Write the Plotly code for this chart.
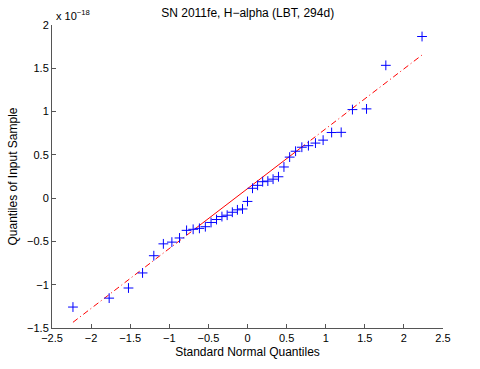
import numpy as np
import plotly.graph_objects as go

# standard normal quantiles for n = 39 samples
normal_q = [-2.232, -1.769, -1.522, -1.342, -1.198, -1.076, -0.967, -0.869, -0.779, -0.695,
            -0.615, -0.539, -0.466, -0.396, -0.327, -0.260, -0.194, -0.129, -0.064, 0.0,
            0.064, 0.129, 0.194, 0.260, 0.327, 0.396, 0.466, 0.539, 0.615, 0.695,
            0.779, 0.869, 0.967, 1.076, 1.198, 1.342, 1.522, 1.769, 2.232]

# sample quantiles, units of 1e-18
sample_q = [-1.258, -1.155, -1.038, -0.864, -0.665, -0.528, -0.508, -0.460, -0.372, -0.360,
            -0.349, -0.330, -0.281, -0.247, -0.213, -0.197, -0.163, -0.135, -0.125, -0.038,
            0.114, 0.148, 0.190, 0.197, 0.219, 0.247, 0.360, 0.474, 0.542, 0.588,
            0.606, 0.636, 0.670, 0.758, 0.760, 1.023, 1.031, 1.534, 1.867]

x_ticks = [-2.5, -2, -1.5, -1, -0.5, 0, 0.5, 1, 1.5, 2, 2.5]
y_ticks = [-1.5, -1, -0.5, 0, 0.5, 1, 1.5, 2]

# reference line through the quartiles (like matlab qqplot)
xs = np.array(normal_q)
ys = np.array(sample_q)
q1x, q3x = np.percentile(xs, [25, 75], method="hazen")
q1y, q3y = np.percentile(ys, [25, 75], method="hazen")
slope = (q3y - q1y) / (q3x - q1x)
icpt = q1y - slope * q1x

def line_y(v):
    return [icpt + slope * t for t in v]

red = "#ff0000"
blue = "#0000ff"
fig = go.Figure()

ext_x = [xs.min(), q1x, None, q3x, xs.max()]
ext_y = line_y([xs.min(), q1x]) + [None] + line_y([q3x, xs.max()])
fig.add_trace(go.Scatter(x=ext_x, y=ext_y, mode="lines",
                         line=dict(color=red, width=1, dash="6px,3px,1px,3px")))
fig.add_trace(go.Scatter(x=[q1x, q3x], y=line_y([q1x, q3x]), mode="lines",
                         line=dict(color=red, width=1)))
fig.add_trace(go.Scatter(x=normal_q, y=sample_q, mode="markers",
                         marker=dict(symbol="cross-thin", size=7, color=blue,
                                     line=dict(color=blue, width=1))))

axis_style = dict(showgrid=False, zeroline=False, showline=True, linecolor="#555555",
                  linewidth=1, ticks="inside", ticklen=4, tickcolor="#555555",
                  tickfont=dict(size=11, color="black"))

fig.update_xaxes(range=[-2.5, 2.5], tickvals=x_ticks,
                 title=dict(text="Standard Normal Quantiles", font=dict(size=12), standoff=4),
                 **axis_style)
fig.update_yaxes(range=[-1.5, 2], tickvals=y_ticks,
                 ticktext=[("%g" % v).replace("-", "\u2212") for v in y_ticks],
                 title=dict(text="Quantiles of Input Sample", font=dict(size=12), standoff=6),
                 **axis_style)

fig.update_layout(
    width=480, height=369,
    margin=dict(l=52, r=37, t=25, b=37),
    plot_bgcolor="white", paper_bgcolor="white",
    showlegend=False,
    hovermode=False,
    font=dict(family="Liberation Sans, Arial, sans-serif", color="black"),
    title=dict(text="SN 2011fe, H\u2212alpha (LBT, 294d)", x=0.516, xanchor="center",
               y=0.965, yanchor="middle", font=dict(size=12)),
    annotations=[dict(text="x 10<sup>\u221218</sup>", xref="paper", yref="paper",
                      x=0.0, y=1.0, xanchor="left", yanchor="bottom", showarrow=False,
                      font=dict(size=11), xshift=2, yshift=1)],
)

# page body has a default 8px margin, drop it so the figure sits at 0,0
fig.write_html("out.html", config={"displayModeBar": False},
               post_script="document.body.style.margin='0';")
